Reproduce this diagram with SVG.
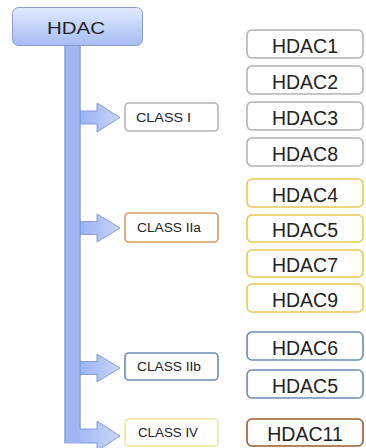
<svg xmlns="http://www.w3.org/2000/svg" width="366" height="448" viewBox="0 0 366 448">
<defs>
<linearGradient id="gTop" x1="0" y1="0" x2="0" y2="1">
<stop offset="0" stop-color="#e2eafe"/>
<stop offset="1" stop-color="#a6bcf4"/>
</linearGradient>
<linearGradient id="gArr" x1="0" y1="0" x2="1" y2="0">
<stop offset="0" stop-color="#9ab1f1"/>
<stop offset="1" stop-color="#c8d6fa"/>
</linearGradient>
</defs>
<style>
.hd{fill:#fff;stroke-width:1.6}
.t{font-family:"Liberation Sans",Arial,sans-serif;fill:#222}
.big{font-size:19.5px;text-anchor:middle}
.sm{font-size:12px}
.arr{fill:url(#gArr);stroke:#7c95d4;stroke-width:0.9}
.gray{stroke:#b3b3b3}
.yel{stroke:#e6c94e}
.org{stroke:#d69a63}
.blu{stroke:#6b8cb3}
.brn{stroke:#9b5a2e}
.lyel{stroke:#f1e49a}
</style>
<g id="connectors">
<path class="arr" d="M65,45 H80 V429 H97 V421 L120,436 L97,451 V443 H65 Z"/>
<path class="arr" d="M80,111 H97 V103 L120,117.5 L97,132 V124 H80 Z"/>
<path class="arr" d="M80,221.5 H97 V214 L120,228 L97,242 V234.5 H80 Z"/>
<path class="arr" d="M80,361.5 H97 V354 L120,368 L97,382 V374.5 H80 Z"/>
<rect x="65" y="45" width="15" height="398" fill="#a0b6f3" stroke="none"/>
<path d="M65,45 V443 M80,45 V429" stroke="#7c95d4" stroke-width="0.9" fill="none"/>
</g>
<g id="hdac">
<rect x="12.5" y="7.5" width="130" height="38" rx="6" fill="url(#gTop)" stroke="#8d9dc6" stroke-width="1"/>
<text class="t" x="47" y="34.3" style="font-size:16.5px" textLength="58" lengthAdjust="spacingAndGlyphs">HDAC</text>
</g>
<g id="class1"><rect class="hd gray" x="125" y="103" width="93" height="28" rx="4"/><text class="t sm" x="136" y="121.5" textLength="55" lengthAdjust="spacingAndGlyphs">CLASS I</text></g>
<g id="class2a"><rect class="hd org" x="125" y="213" width="93" height="29" rx="4"/><text class="t sm" x="137" y="232" textLength="64" lengthAdjust="spacingAndGlyphs">CLASS IIa</text></g>
<g id="class2b"><rect class="hd blu" x="125" y="353" width="93" height="27" rx="4"/><text class="t sm" x="137" y="371" textLength="64" lengthAdjust="spacingAndGlyphs">CLASS IIb</text></g>
<g id="class4"><rect class="hd lyel" x="125" y="419" width="93" height="27" rx="4"/><text class="t sm" x="138" y="437" textLength="60" lengthAdjust="spacingAndGlyphs">CLASS IV</text></g>
<g id="hdac1"><rect class="hd gray" x="247" y="30" width="116" height="28" rx="5"/><text class="t big" x="305" y="52.5">HDAC1</text></g>
<g id="hdac2"><rect class="hd gray" x="247" y="66" width="116" height="28" rx="5"/><text class="t big" x="305" y="88.5">HDAC2</text></g>
<g id="hdac3"><rect class="hd gray" x="247" y="102" width="116" height="28" rx="5"/><text class="t big" x="305" y="124.5">HDAC3</text></g>
<g id="hdac8"><rect class="hd gray" x="247" y="138" width="116" height="28" rx="5"/><text class="t big" x="305" y="160.5">HDAC8</text></g>
<g id="hdac4"><rect class="hd yel" x="247" y="179" width="116" height="28" rx="5"/><text class="t big" x="305" y="201.5">HDAC4</text></g>
<g id="hdac5a"><rect class="hd yel" x="247" y="215" width="116" height="27" rx="5"/><text class="t big" x="305" y="237">HDAC5</text></g>
<g id="hdac7"><rect class="hd yel" x="247" y="250" width="116" height="27" rx="5"/><text class="t big" x="305" y="272">HDAC7</text></g>
<g id="hdac9"><rect class="hd yel" x="247" y="284" width="116" height="28" rx="5"/><text class="t big" x="305" y="306.5">HDAC9</text></g>
<g id="hdac6"><rect class="hd blu" x="247" y="332" width="116" height="28" rx="5"/><text class="t big" x="305" y="354.5">HDAC6</text></g>
<g id="hdac5b"><rect class="hd blu" x="247" y="370" width="116" height="28" rx="5"/><text class="t big" x="305" y="392.5">HDAC5</text></g>
<g id="hdac11"><rect class="hd brn" x="247" y="419" width="116" height="27" rx="5"/><text class="t big" x="305" y="441">HDAC11</text></g>
</svg>
